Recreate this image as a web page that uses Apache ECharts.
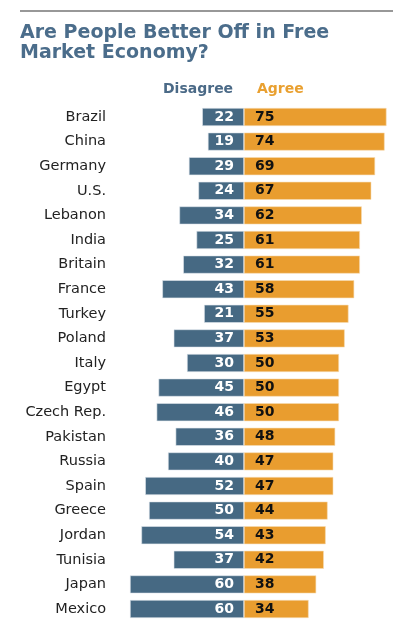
<!DOCTYPE html>
<html lang="en">
<head>
    <meta charset="UTF-8">
    <title>Free Market Economy</title>
    <script src="https://cdn.jsdelivr.net/npm/echarts@6/dist/echarts.min.js"></script>
    <style>
        html, body { margin: 0; padding: 0; background: #fff; }
        #main { width: 402px; height: 640px; }
    </style>
</head>
<body>
    <div id="main"></div>
<script type="text/javascript">
    // data
    var countries = ['Brazil', 'China', 'Germany', 'U.S.', 'Lebanon', 'India', 'Britain', 'France',
        'Turkey', 'Poland', 'Italy', 'Egypt', 'Czech Rep.', 'Pakistan', 'Russia', 'Spain',
        'Greece', 'Jordan', 'Tunisia', 'Japan', 'Mexico'];
    var disagree = [22, 19, 29, 24, 34, 25, 32, 43, 21, 37, 30, 45, 46, 36, 40, 52, 50, 54, 37, 60, 60];
    var agree = [75, 74, 69, 67, 62, 61, 61, 58, 55, 53, 50, 50, 50, 48, 47, 47, 44, 43, 42, 38, 34];

    var blue = '#466983';
    var orange = '#e99d2f';
    var font = 'DejaVu Sans, Verdana, sans-serif';

    var myChart = echarts.init(document.getElementById('main'));

    var option = {
        animation: false,
        graphic: [
            { type: 'line', shape: { x1: 20, y1: 11, x2: 393, y2: 11 },
              style: { stroke: '#333', lineWidth: 1.2 } },
            { type: 'text', left: 20, top: 23,
              style: { text: 'Are People Better Off in Free\nMarket Economy?', fill: '#4b6d8b',
                       font: 'bold 19px ' + font, lineHeight: 20 } },
            { type: 'text', left: 163, top: 82,
              style: { text: 'Disagree', fill: '#4b6a87', font: 'bold 14px ' + font } },
            { type: 'text', left: 257, top: 82,
              style: { text: 'Agree', fill: '#e9a030', font: 'bold 14px ' + font } }
        ],
        grid: { left: 130, width: 256.5, top: 104.7, height: 516.6 },
        xAxis: {
            type: 'value', min: -60, max: 75, show: false
        },
        yAxis: {
            type: 'category', data: countries, inverse: true,
            axisLine: { show: false }, axisTick: { show: false },
            axisLabel: { margin: 24, color: '#222', fontSize: 14.5, fontFamily: font }
        },
        series: [
            {
                name: 'Disagree', type: 'bar', stack: 'all', barWidth: 18,
                data: disagree.map(function (v) { return -v; }),
                itemStyle: { color: blue, borderColor: '#dfe6ec', borderWidth: 0.6 },
                label: {
                    show: true, position: 'insideRight', distance: 10,
                    formatter: function (p) { return Math.abs(p.value); },
                    color: '#fff', fontWeight: 'bold', fontSize: 14, fontFamily: font
                }
            },
            {
                name: 'Agree', type: 'bar', stack: 'all', barWidth: 18,
                data: agree,
                itemStyle: { color: orange, borderColor: '#f6dcb4', borderWidth: 0.6 },
                label: {
                    show: true, position: 'insideLeft', distance: 11,
                    color: '#111', fontWeight: 'bold', fontSize: 14, fontFamily: font
                }
            }
        ]
    };

    myChart.setOption(option);
</script>
</body>
</html>
